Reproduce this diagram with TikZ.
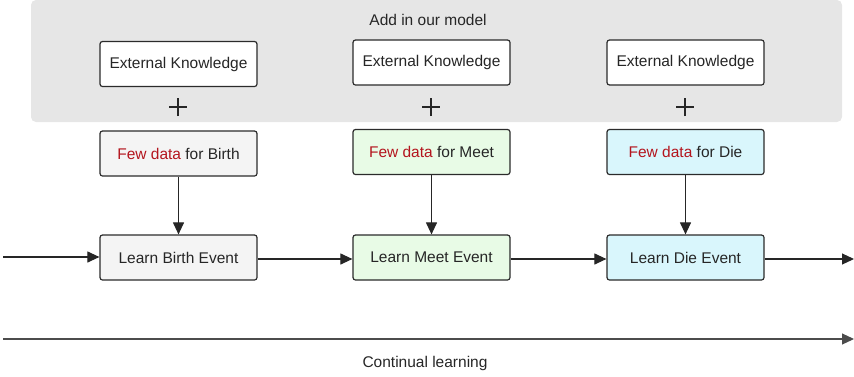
\documentclass[tikz,border=0pt]{standalone}
\usepackage{fontspec}
\setmainfont{Liberation Sans}
\usetikzlibrary{arrows.meta}
\definecolor{panelgray}{HTML}{E6E6E6}
\definecolor{fillgray}{HTML}{F4F4F4}
\definecolor{fillgreen}{HTML}{E8FBE6}
\definecolor{fillcyan}{HTML}{D9F6FC}
\definecolor{fewred}{HTML}{B4151E}
\definecolor{edge}{HTML}{2B2B2B}
\tikzset{
  box/.style={draw=edge, line width=1.2pt, rounded corners=2.5pt, minimum width=157pt, minimum height=45pt, inner sep=0pt, font=\fontsize{15.5}{17}\selectfont, text=black!85},
  conn/.style={draw=black!85, line width=1.1pt, -{Triangle[length=12pt,width=11pt]}},
  lbl/.style={font=\fontsize{15.5}{17}\selectfont, text=black!85},
  plus/.style={line width=1.1pt, draw=black!85}
}
\newcommand{\few}{\textcolor{fewred}{Few data}}
\begin{document}
\begin{tikzpicture}[x=1pt,y=-1pt]
\useasboundingbox (0,0) rectangle (854,376);
% panel
\fill[panelgray, rounded corners=5pt] (31,0) rectangle (842,122);
\node[lbl] (title) at (428,20) {Add in our model};
% external knowledge
\node[box, fill=white] (ek1) at (178.5,64) {External Knowledge};
\node[box, fill=white] (ek2) at (431.5,62.5) {External Knowledge};
\node[box, fill=white] (ek3) at (685.5,62.5) {External Knowledge};
% plus signs
\foreach \x/\n in {178/p1,431/p2,685/p3}{
  \coordinate (\n) at (\x,107);
  \draw[plus] ([xshift=-9pt]\n) -- ([xshift=9pt]\n);
  \draw[plus] ([yshift=-9pt]\n) -- ([yshift=9pt]\n);
}
% few data
\node[box, fill=fillgray] (fd1) at (178.5,153.5) {\few{} for Birth};
\node[box, fill=fillgreen] (fd2) at (431.5,152) {\few{} for Meet};
\node[box, fill=fillcyan] (fd3) at (685.5,152) {\few{} for Die};
% learn
\node[box, fill=fillgray] (le1) at (178.5,257.5) {Learn Birth Event};
\node[box, fill=fillgreen] (le2) at (431.5,257.5) {Learn Meet Event};
\node[box, fill=fillcyan] (le3) at (685.5,257.5) {Learn Die Event};
% vertical arrows
\draw[conn] (fd1) -- (le1);
\draw[conn] (fd2) -- (le2);
\draw[conn] (fd3) -- (le3);
% horizontal arrows
\coordinate (start) at (3,257);
\coordinate (hl) at (0,259);
\coordinate (end) at (854,259);
\draw[conn] (start) -- (start -| le1.west);
\draw[conn] (hl -| le1.east) -- (hl -| le2.west);
\draw[conn] (hl -| le2.east) -- (hl -| le3.west);
\draw[conn] (hl -| le3.east) -- (end);
% continual learning axis
\coordinate (ax1) at (3,339);
\coordinate (ax2) at (854,339);
\draw[conn, draw=black!70] (ax1) -- (ax2);
\node[lbl] (cl) at (425,363) {Continual learning};
\end{tikzpicture}
\end{document}
